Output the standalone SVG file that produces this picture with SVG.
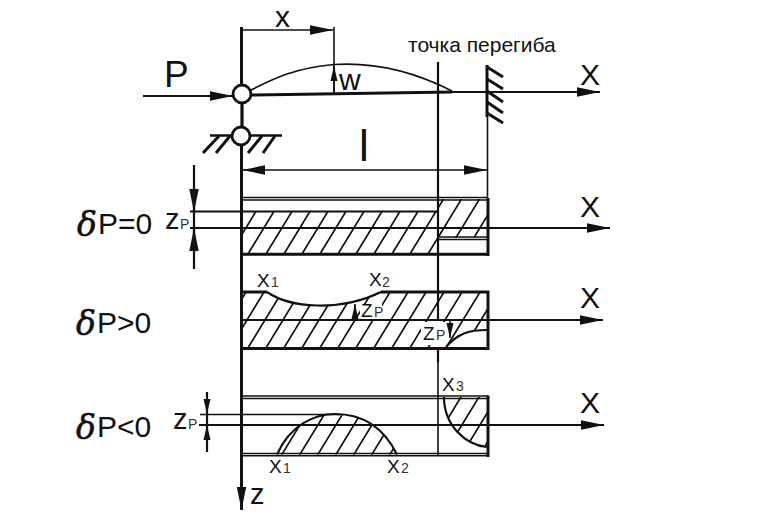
<svg xmlns="http://www.w3.org/2000/svg" width="766" height="519" viewBox="0 0 766 519">
<style>
text{font-family:"Liberation Sans",Arial,sans-serif;fill:#111}
.d{font-family:"DejaVu Serif","Liberation Serif",serif;font-style:italic;font-size:33px;stroke:#111;stroke-width:.6}
.b{font-size:30px}.m{font-size:19px}.s{font-size:14px;fill:#333}
.l{stroke:#111;fill:none;stroke-width:3}
.t{stroke:#111;fill:none;stroke-width:1.6}
.h{stroke:#111;fill:none;stroke-width:2.2}
.a{marker-end:url(#ar)}
.v{marker-end:url(#sm)}
</style>
<defs>
<marker id="ar" markerUnits="userSpaceOnUse" markerWidth="24" markerHeight="10" refX="23" refY="5" orient="auto-start-reverse"><path d="M0,.3L23,5L0,9.7Z" fill="#111"/></marker>
<marker id="sm" markerUnits="userSpaceOnUse" markerWidth="16" markerHeight="8" refX="15" refY="4" orient="auto-start-reverse"><path d="M0,.5L15,4L0,7.5Z" fill="#111"/></marker>
<pattern id="h1" patternUnits="userSpaceOnUse" x="-2" width="18" height="18" patternTransform="skewX(-31.4)"><path d="M9,-1V19" stroke="#111" stroke-width="2"/></pattern>
<pattern id="h2" patternUnits="userSpaceOnUse" x="1.3" width="18" height="18" patternTransform="skewX(-31.4)"><path d="M9,-1V19" stroke="#111" stroke-width="2"/></pattern>
<pattern id="h3" patternUnits="userSpaceOnUse" x="-7.7" width="18" height="18" patternTransform="skewX(-31.4)"><path d="M9,-1V19" stroke="#111" stroke-width="2"/></pattern>
</defs>
<rect width="766" height="519" fill="#fff"/>

<g id="panel-p0">
<path d="M242,212H437V254H242Z M438,199H487V238H438Z" fill="url(#h1)"/>
<path class="t" d="M242,197.5H488M242,200H488M438,237H488M438,239.5H488"/>
<path class="l" d="M242,254.3H488M488,198V256"/>
</g>
<g id="panel-pgt0">
<path d="M242,292H267C290,308 340,312 381,292H487V330C470,330 458,333 446,347H242Z" fill="url(#h2)"/>
<rect x="360" y="304" width="22" height="15" fill="#fff"/>
<rect x="421" y="322" width="25" height="23" fill="#fff"/>
<path class="l" d="M242,292H267M381,292H488M242,348.5H488M488,290.5V350"/>
<path class="h" d="M267,292C290,308 340,312 381,292M487,330C470,330 458,333 446,347"/>
</g>
<g id="panel-plt0">
<path d="M277,454.5C290,425 315,414 335,414C365,414 385,430 397,454.5Z" fill="url(#h3)"/>
<path d="M444,397C444,425 465,445 487,447V397Z" fill="url(#h3)"/>
<path class="t" d="M242,396H488M242,398.5H488M242,453.5H488M242,455.8H488"/>
<path class="l" d="M488,395.5V457"/>
<path class="h" d="M277,454.5C290,425 315,414 335,414C365,414 385,430 397,454.5M444,397C444,425 465,445 487,447"/>
</g>

<g id="connectors">
<path class="l" d="M241.5,27V85M241.5,145V505"/>
<path class="l a" d="M241.5,460V510"/>
<path class="t a" d="M242,30H333"/>
<path class="t" d="M334,27V94"/>
<path class="t v" d="M334,94V66"/>
<path class="h a" d="M143,96H233"/>
<path class="t" d="M251,90C275,78 295,68 334,64.5C375,62 415,72 452,91"/>
<path class="l" d="M250,95L452,92"/>
<path class="h a" d="M452,92H600"/>
<path class="h" d="M438,62V320M438,347V362"/>
<path class="t" d="M438,362V455"/>
<path class="t" d="M487.5,117V198"/>
<path class="t" d="M242,170H487" marker-start="url(#ar)" marker-end="url(#ar)"/>
<path class="h" d="M194,165V269"/>
<path class="h a" d="M194,188V212"/>
<path class="h a" d="M194,252V228"/>
<path class="h" d="M190,211.5H437"/>
<path class="h a" d="M190,228H610"/>
<path class="h a" d="M242,320H603"/>
<path class="t v" d="M355,320V304"/>
<path class="t v" d="M450,320V338"/>
<path class="h" d="M207,392V452"/>
<path class="t v" d="M207,398V414"/>
<path class="t v" d="M207,442V425"/>
<path class="t" d="M200,414.5H340"/>
<path class="h a" d="M199,425H604"/>
</g>

<g id="support-top"><circle cx="242" cy="94" r="9" fill="#fff" stroke="#111" stroke-width="2.8"/></g>
<g id="support-link"><path d="M242,103V127" stroke="#111" stroke-width="3.2"/></g>
<g id="support-ground">
<path d="M210,135.5H282" stroke="#111" stroke-width="2.6"/>
<path class="l" d="M203,153L219,136M216,153L230,136M248,153L262,136M263,153L275,136"/>
<circle cx="241" cy="136" r="9" fill="#fff" stroke="#111" stroke-width="2.8"/>
</g>
<g id="wall">
<path d="M487,65V117" stroke="#111" stroke-width="3"/>
<path class="l" d="M487,67L503,77M487,79L503,89M487,91L503,102M487,102L503,113M487,113L503,123"/>
</g>

<g id="labels">
<text class="b" x="275" y="27">x</text>
<text x="164" y="87" style="font-size:37px">P</text>
<text class="b" x="339" y="90">w</text>
<text x="359" y="161" style="font-size:44px">l</text>
<text x="408" y="52" style="font-size:21px">точка перегиба</text>
<text class="b" x="580" y="85">X</text>
<text class="b" x="580" y="217">X</text>
<text class="b" x="580" y="308">X</text>
<text class="b" x="580" y="413">X</text>
<text class="d" x="77" y="236">δ</text><text class="b" x="98" y="234">P=0</text>
<text class="d" x="76" y="335">δ</text><text class="b" x="97" y="333">P&gt;0</text>
<text class="d" x="76" y="439">δ</text><text class="b" x="97" y="437">P&lt;0</text>
<text x="165" y="229" style="font-size:29px">z</text><text class="s" x="180" y="229">P</text>
<text x="173" y="429" style="font-size:29px">z</text><text class="s" x="188" y="429">P</text>
<text x="250" y="504" style="font-size:29px">z</text>
<text class="m" x="257" y="287">X</text><text class="s" x="271" y="287">1</text>
<text class="m" x="369" y="286">X</text><text class="s" x="382" y="287">2</text>
<text class="m" x="361" y="317">Z</text><text class="s" x="374" y="317">P</text>
<text class="m" x="423" y="340">Z</text><text class="s" x="436" y="340">P</text>
<text class="m" x="442" y="391">X</text><text class="s" x="456" y="391">3</text>
<text class="m" x="269" y="473">X</text><text class="s" x="283" y="473">1</text>
<text class="m" x="387" y="473">X</text><text class="s" x="401" y="473">2</text>
</g>
</svg>
